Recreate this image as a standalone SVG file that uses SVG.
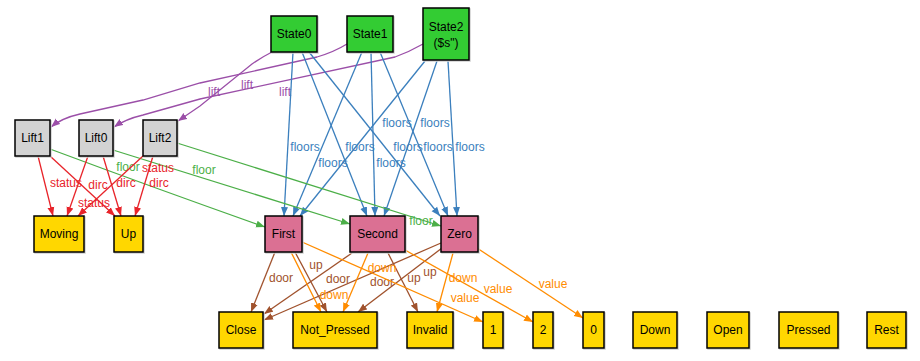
<svg xmlns="http://www.w3.org/2000/svg" width="920" height="361" viewBox="0 0 920 361">
  <style>
    .box { stroke: #000; stroke-width: 1.5; }
    .shadow { fill: none; stroke: #cfcfcf; stroke-width: 1.5; }
    .state { fill: #33cc33; }
    .lift { fill: #d3d3d3; }
    .floor { fill: #db7093; }
    .val { fill: #ffd700; }
    .nl { font-family: "Liberation Sans", Arial, sans-serif; font-size: 12px; fill: #000; text-anchor: middle; }
    .el { font-family: "Liberation Sans", Arial, sans-serif; font-size: 12px; text-anchor: middle; }
    .e { fill: none; stroke-width: 1.3; }
    .p { stroke: #9b4fa8; } .pt { fill: #9b4fa8; }
    .b { stroke: #3b7fbd; } .bt { fill: #3b7fbd; }
    .g { stroke: #4caf48; } .gt { fill: #4caf48; }
    .r { stroke: #e8242a; } .rt { fill: #e8242a; }
    .br { stroke: #a0522d; } .brt { fill: #a0522d; }
    .o { stroke: #ff8c00; } .ot { fill: #ff8c00; }
  </style>
  <defs>
    <marker id="ap" markerWidth="10" markerHeight="8" refX="9" refY="4" orient="auto" markerUnits="userSpaceOnUse"><path d="M0,0.5 L9,4 L0,7.5 z" fill="#9b4fa8"/></marker>
    <marker id="ab" markerWidth="10" markerHeight="8" refX="9" refY="4" orient="auto" markerUnits="userSpaceOnUse"><path d="M0,0.5 L9,4 L0,7.5 z" fill="#3b7fbd"/></marker>
    <marker id="ag" markerWidth="10" markerHeight="8" refX="9" refY="4" orient="auto" markerUnits="userSpaceOnUse"><path d="M0,0.5 L9,4 L0,7.5 z" fill="#4caf48"/></marker>
    <marker id="ar" markerWidth="10" markerHeight="8" refX="9" refY="4" orient="auto" markerUnits="userSpaceOnUse"><path d="M0,0.5 L9,4 L0,7.5 z" fill="#e8242a"/></marker>
    <marker id="abr" markerWidth="10" markerHeight="8" refX="9" refY="4" orient="auto" markerUnits="userSpaceOnUse"><path d="M0,0.5 L9,4 L0,7.5 z" fill="#a0522d"/></marker>
    <marker id="ao" markerWidth="10" markerHeight="8" refX="9" refY="4" orient="auto" markerUnits="userSpaceOnUse"><path d="M0,0.5 L9,4 L0,7.5 z" fill="#ff8c00"/></marker>
  </defs>
  <rect width="920" height="361" fill="#fff"/>

  <g id="connectors">
    <!-- lift -->
    <path class="e p" marker-end="url(#ap)" d="M347,44 Q334,52 317,57 L200,83 L143,100 L80,114 Q62,118 51,127"/>
    <path class="e p" marker-end="url(#ap)" d="M423,44 Q409,52 395,57 L200,99 L143,115 Q126,119 114,127"/>
    <path class="e p" marker-end="url(#ap)" d="M272,52 Q262,57 252,64 L200,106 L178,121"/>
    <text class="el pt" x="214" y="96">lift</text>
    <text class="el pt" x="247" y="89">lift</text>
    <text class="el pt" x="285" y="96">lift</text>

    <!-- floors -->
    <path class="e b" marker-end="url(#ab)" d="M293,52 L284,216"/>
    <path class="e b" marker-end="url(#ab)" d="M302,52 L367,216"/>
    <path class="e b" marker-end="url(#ab)" d="M309,52 L440,216"/>
    <path class="e b" marker-end="url(#ab)" d="M362,52 L293,216"/>
    <path class="e b" marker-end="url(#ab)" d="M371,52 L375,216"/>
    <path class="e b" marker-end="url(#ab)" d="M380,52 L448,216"/>
    <path class="e b" marker-end="url(#ab)" d="M425,61 L300,216"/>
    <path class="e b" marker-end="url(#ab)" d="M437,61 L384,216"/>
    <path class="e b" marker-end="url(#ab)" d="M448,61 L457,216"/>
    <text class="el bt" x="305" y="151">floors</text>
    <text class="el bt" x="360" y="151">floors</text>
    <text class="el bt" x="397" y="127">floors</text>
    <text class="el bt" x="435" y="127">floors</text>
    <text class="el bt" x="333" y="167">floors</text>
    <text class="el bt" x="391" y="167">floors</text>
    <text class="el bt" x="408" y="151">floors</text>
    <text class="el bt" x="438" y="151">floors</text>
    <text class="el bt" x="470" y="151">floors</text>

    <!-- floor -->
    <path class="e g" marker-end="url(#ag)" d="M50,149 Q160,190 265,227"/>
    <path class="e g" marker-end="url(#ag)" d="M113,150 Q240,190 350,224"/>
    <path class="e g" marker-end="url(#ag)" d="M177,143 Q310,185 441,226"/>
    <text class="el gt" x="128" y="171">floor</text>
    <text class="el gt" x="204" y="174">floor</text>
    <text class="el gt" x="421" y="225">floor</text>

    <!-- status / dirc -->
    <path class="e r" marker-end="url(#ar)" d="M38,156 L53,216"/>
    <path class="e r" marker-end="url(#ar)" d="M50,156 L115,216"/>
    <path class="e r" marker-end="url(#ar)" d="M88,156 L67,216"/>
    <path class="e r" marker-end="url(#ar)" d="M103,156 L121,216"/>
    <path class="e r" marker-end="url(#ar)" d="M143,156 L78,216"/>
    <path class="e r" marker-end="url(#ar)" d="M153,156 L135,216"/>
    <text class="el rt" x="66" y="187">status</text>
    <text class="el rt" x="98" y="189">dirc</text>
    <text class="el rt" x="126" y="187">dirc</text>
    <text class="el rt" x="159" y="187">dirc</text>
    <text class="el rt" x="158" y="172">status</text>
    <text class="el rt" x="94" y="207">status</text>

    <!-- door / up -->
    <path class="e br" marker-end="url(#abr)" d="M275,252 L251,312"/>
    <path class="e br" marker-end="url(#abr)" d="M295,252 L327,312"/>
    <path class="e br" marker-end="url(#abr)" d="M352,253 L264,314"/>
    <path class="e br" marker-end="url(#abr)" d="M441,243 L264,320"/>
    <path class="e br" marker-end="url(#abr)" d="M442,248 L358,312"/>
    <path class="e br" marker-end="url(#abr)" d="M388,253 L418,312"/>
    <text class="el brt" x="281" y="282">door</text>
    <text class="el brt" x="338" y="283">door</text>
    <text class="el brt" x="382" y="286">door</text>
    <text class="el brt" x="316" y="269">up</text>
    <text class="el brt" x="414" y="282">up</text>
    <text class="el brt" x="430" y="276">up</text>

    <!-- down / value -->
    <path class="e o" marker-end="url(#ao)" d="M291,252 L321,312"/>
    <path class="e o" marker-end="url(#ao)" d="M368,253 L343,312"/>
    <path class="e o" marker-end="url(#ao)" d="M453,253 L437,312"/>
    <path class="e o" marker-end="url(#ao)" d="M302,242 L483,322"/>
    <path class="e o" marker-end="url(#ao)" d="M405,250 L533,322"/>
    <path class="e o" marker-end="url(#ao)" d="M477,248 L583,318"/>
    <text class="el ot" x="382" y="272">down</text>
    <text class="el ot" x="334" y="299">down</text>
    <text class="el ot" x="463" y="282">down</text>
    <text class="el ot" x="465" y="302">value</text>
    <text class="el ot" x="498" y="293">value</text>
    <text class="el ot" x="553" y="288">value</text>
  </g>

  <g id="State0"><rect class="shadow" x="272" y="17" width="46" height="36"/><rect class="box state" x="271" y="16" width="46" height="36"/><text class="nl" x="294" y="38">State0</text></g>
  <g id="State1"><rect class="shadow" x="348" y="17" width="46" height="36"/><rect class="box state" x="347" y="16" width="46" height="36"/><text class="nl" x="370" y="38">State1</text></g>
  <g id="State2"><rect class="shadow" x="424" y="9" width="46" height="52"/><rect class="box state" x="423" y="8" width="46" height="52"/><text class="nl" x="446" y="31">State2</text><text class="nl" x="446" y="47">($s")</text></g>

  <g id="Lift1"><rect class="shadow" x="16" y="121" width="35" height="36"/><rect class="box lift" x="15" y="120" width="35" height="36"/><text class="nl" x="32.5" y="142">Lift1</text></g>
  <g id="Lift0"><rect class="shadow" x="80" y="121" width="34" height="36"/><rect class="box lift" x="79" y="120" width="34" height="36"/><text class="nl" x="96" y="142">Lift0</text></g>
  <g id="Lift2"><rect class="shadow" x="144" y="121" width="34" height="36"/><rect class="box lift" x="143" y="120" width="34" height="36"/><text class="nl" x="160" y="142">Lift2</text></g>

  <g id="Moving"><rect class="shadow" x="35" y="217" width="50" height="36"/><rect class="box val" x="34" y="216" width="50" height="36"/><text class="nl" x="59" y="238">Moving</text></g>
  <g id="Up"><rect class="shadow" x="115" y="217" width="29" height="36"/><rect class="box val" x="114" y="216" width="29" height="36"/><text class="nl" x="128.5" y="238">Up</text></g>

  <g id="First"><rect class="shadow" x="266" y="217" width="37" height="36"/><rect class="box floor" x="265" y="216" width="37" height="36"/><text class="nl" x="283.5" y="238">First</text></g>
  <g id="Second"><rect class="shadow" x="351" y="217" width="55" height="36"/><rect class="box floor" x="350" y="216" width="55" height="36"/><text class="nl" x="377.5" y="238">Second</text></g>
  <g id="Zero"><rect class="shadow" x="442" y="217" width="37" height="36"/><rect class="box floor" x="441" y="216" width="37" height="36"/><text class="nl" x="459.5" y="238">Zero</text></g>

  <g id="Close"><rect class="shadow" x="220" y="313" width="44" height="36"/><rect class="box val" x="219" y="312" width="44" height="36"/><text class="nl" x="241" y="334">Close</text></g>
  <g id="Not_Pressed"><rect class="shadow" x="294" y="313" width="84" height="36"/><rect class="box val" x="293" y="312" width="84" height="36"/><text class="nl" x="335" y="334">Not_Pressed</text></g>
  <g id="Invalid"><rect class="shadow" x="408" y="313" width="46" height="36"/><rect class="box val" x="407" y="312" width="46" height="36"/><text class="nl" x="430" y="334">Invalid</text></g>
  <g id="v1"><rect class="shadow" x="484" y="313" width="20" height="36"/><rect class="box val" x="483" y="312" width="20" height="36"/><text class="nl" x="493" y="334">1</text></g>
  <g id="v2"><rect class="shadow" x="534" y="313" width="20" height="36"/><rect class="box val" x="533" y="312" width="20" height="36"/><text class="nl" x="543" y="334">2</text></g>
  <g id="v0"><rect class="shadow" x="584" y="313" width="21" height="36"/><rect class="box val" x="583" y="312" width="21" height="36"/><text class="nl" x="593.5" y="334">0</text></g>
  <g id="Down"><rect class="shadow" x="634" y="313" width="44" height="36"/><rect class="box val" x="633" y="312" width="44" height="36"/><text class="nl" x="655" y="334">Down</text></g>
  <g id="Open"><rect class="shadow" x="708" y="313" width="42" height="36"/><rect class="box val" x="707" y="312" width="42" height="36"/><text class="nl" x="728" y="334">Open</text></g>
  <g id="Pressed"><rect class="shadow" x="780" y="313" width="59" height="36"/><rect class="box val" x="779" y="312" width="59" height="36"/><text class="nl" x="808.5" y="334">Pressed</text></g>
  <g id="Rest"><rect class="shadow" x="868" y="313" width="39" height="36"/><rect class="box val" x="867" y="312" width="39" height="36"/><text class="nl" x="886.5" y="334">Rest</text></g>
</svg>
